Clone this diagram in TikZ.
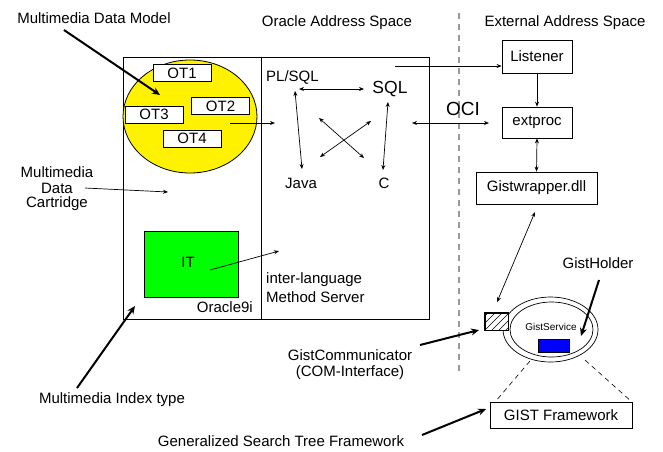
\documentclass[tikz,border=0pt]{standalone}
\usepackage{fontspec}
\setmainfont{Liberation Sans}
\usetikzlibrary{arrows.meta,shapes.geometric}
\begin{document}
\begin{tikzpicture}[x=1pt,y=-1pt,
  txt/.style={inner sep=0pt,font=\fontsize{15}{17}\selectfont},
  box/.style={draw,line width=0.8pt,inner sep=0pt,font=\fontsize{15}{17}\selectfont},
  arr/.style={line width=0.7pt,-{Stealth[length=5pt,width=4pt]}},
  darr/.style={line width=0.7pt,{Stealth[length=5pt,width=4pt]}-{Stealth[length=5pt,width=4pt]}},
  thk/.style={line width=2pt,-{Stealth[length=8pt,width=7pt]}}]
\useasboundingbox (0,0) rectangle (663,451);
% titles
\node[txt] (mdm) at (94,18) {Multimedia Data Model};
\node[txt] (oas) at (337,23) {Oracle Address Space};
\node[txt] (eas) at (565,23) {External Address Space};
% dashed separator
\coordinate (sepT) at (459,13);
\coordinate (sepB) at (459,373);
\draw[gray!80,line width=1.3pt,dash pattern=on 6pt off 5pt] (sepT) -- (sepB);
% main box
\node[draw,line width=0.9pt,minimum width=306,minimum height=262,inner sep=0pt] (mainbox) at (276,188) {};
\coordinate (divT) at (261,57);
\coordinate (divB) at (261,319);
\draw[line width=0.9pt] (divT) -- (divB);
% yellow ellipse
\node[ellipse,draw,line width=0.8pt,fill=yellow,minimum width=134,minimum height=113,inner sep=0pt] (mdmell) at (190,116.5) {};
\node[box,fill=white,minimum width=58,minimum height=17] (ot1) at (182,73) {OT1};
\node[box,fill=white,minimum width=58,minimum height=17] (ot2) at (220.5,106) {OT2};
\node[box,fill=white,minimum width=58,minimum height=17] (ot3) at (154,114.5) {OT3};
\node[box,fill=white,minimum width=58,minimum height=17] (ot4) at (192,138.5) {OT4};
% languages
\node[txt,anchor=west] (plsql) at (266,77) {PL/SQL};
\node[inner sep=0pt,font=\fontsize{17.5}{19}\selectfont] (sql) at (390,89) {SQL};
\node[txt] (java) at (301,183) {Java};
\node[txt] (c) at (384,183) {C};
\node[inner sep=0pt,font=\fontsize{19}{20}\selectfont] (oci) at (463,109) {OCI};
% external boxes
\node[box,minimum width=70,minimum height=33] (listener) at (537,56.5) {Listener};
\node[box,minimum width=70,minimum height=31] (extproc) at (537,122.5) {extproc};
\node[box,minimum width=121,minimum height=32] (gw) at (536.5,188) {Gistwrapper.dll};
% green box
\node[draw,line width=0.8pt,fill=green,minimum width=94,minimum height=66,inner sep=0pt] (itbox) at (191,264) {};
\node[txt] (it) at (188,262) {IT};
\node[txt,anchor=east] (o9i) at (253,307) {Oracle9i};
\node[txt,anchor=west] (il1) at (266,280) {inter-language};
\node[txt,anchor=west] (il2) at (266,297) {Method Server};
% left labels
\node[txt] (mdc1) at (57,172) {Multimedia};
\node[txt] (mdc2) at (57,188) {Data};
\node[txt] (mdc3) at (57,204) {Cartridge};
\node[txt] (mit) at (112,400) {Multimedia Index type};
\node[txt] (gc1) at (350,355) {GistCommunicator};
\node[txt] (gc2) at (350,373) {(COM-Interface)};
\node[txt] (gstf) at (281,441) {Generalized Search Tree Framework};
\node[txt] (gh) at (598,263) {GistHolder};
% GistService
\node[ellipse,draw,line width=0.7pt,minimum width=95,minimum height=65,inner sep=0pt] (gsout) at (550.5,329.5) {};
\node[ellipse,draw,line width=0.7pt,minimum width=83,minimum height=55,inner sep=0pt] (gsin) at (551.5,329.5) {};
\node[inner sep=0pt,font=\fontsize{10}{12}\selectfont] (gs) at (551,327) {GistService};
\node[draw,line width=0.7pt,fill=blue,minimum width=31,minimum height=13,inner sep=0pt] (holder) at (553.5,345.5) {};
\node[draw,line width=0.7pt,fill=white,minimum width=23,minimum height=17,inner sep=0pt] (comm) at (496.5,321.5) {};
\begin{scope}
\clip (comm.south west) rectangle (comm.north east);
\foreach \d in {-14,-7,...,28} {\draw[line width=0.45pt] (485+\d,330) -- (485+\d+17,313);}
\end{scope}
\draw[line width=0.7pt] (comm.south west) rectangle (comm.north east);
\node[box,minimum width=142,minimum height=26] (gf) at (561,415) {GIST Framework};
% coordinates for free ends
\coordinate (a1s) at (64,30);   \coordinate (a1e) at (160,95);
\coordinate (a2s) at (230,123); \coordinate (a2e) at (275,123);
\coordinate (a3s) at (85,188);  \coordinate (a3e) at (168,192);
\coordinate (a4s) at (210,270); \coordinate (a4e) at (279,251);
\coordinate (a5s) at (77,388);  \coordinate (a5e) at (135,306);
\coordinate (a6s) at (395,66);
\coordinate (h1) at (299,89);   \coordinate (h2) at (364,89);
\coordinate (v1t) at (295,91);  \coordinate (v1b) at (302,169);
\coordinate (v2t) at (388,102); \coordinate (v2b) at (383,170);
\coordinate (x1a) at (319,118); \coordinate (x1b) at (364,158);
\coordinate (x2a) at (371,121); \coordinate (x2b) at (320,157);
\coordinate (ocia) at (412,123); \coordinate (ocib) at (489,123);
\coordinate (gwa) at (535,212); \coordinate (gwb) at (497,302);
\coordinate (ghs) at (599,280); \coordinate (ghe) at (581,336);
\coordinate (gcs) at (420,345); \coordinate (gce) at (479,330);
\coordinate (gfs) at (422,435); \coordinate (gfe) at (486,409);
\coordinate (d1a) at (530,361); \coordinate (d1b) at (495,402);
\coordinate (d2a) at (585,360); \coordinate (d2b) at (632,402);
% connectors
\draw[thk] (a1s) -- (a1e);
\draw[arr] (a2s) -- (a2e);
\draw[arr] (a3s) -- (a3e);
\draw[arr] (a4s) -- (a4e);
\draw[thk] (a5s) -- (a5e);
\draw[arr] (a6s) -- (a6s -| listener.west);
\draw[arr] (listener.south) -- (extproc.north);
\draw[darr] (extproc.south) -- (gw.north);
\draw[darr] (h1) -- (h2);
\draw[darr] (v1t) -- (v1b);
\draw[darr] (v2t) -- (v2b);
\draw[darr] (x1a) -- (x1b);
\draw[darr] (x2a) -- (x2b);
\draw[darr] (ocia) -- (ocib);
\draw[darr] (gwa) -- (gwb);
\draw[thk] (ghs) -- (ghe);
\draw[thk] (gcs) -- (gce);
\draw[thk] (gfs) -- (gfe);
\draw[line width=0.6pt,dash pattern=on 5pt off 4pt] (d1a) -- (d1b);
\draw[line width=0.6pt,dash pattern=on 5pt off 4pt] (d2a) -- (d2b);
\end{tikzpicture}
\end{document}
